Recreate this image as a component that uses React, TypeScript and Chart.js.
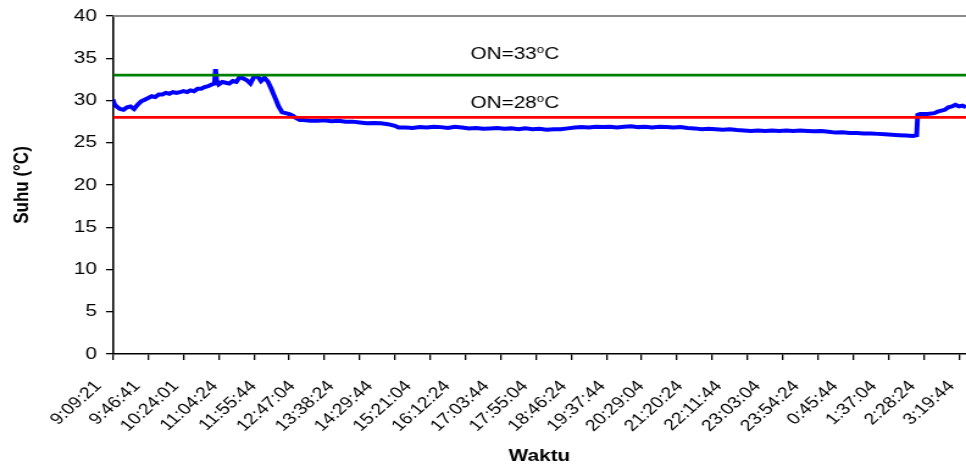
import React, { useEffect, useRef } from "react";
import { Chart, registerables } from "chart.js";

Chart.register(...registerables);

// ---- data ----
const timeLabels = [
  "9:09:21", "9:46:41", "10:24:01", "11:04:24", "11:55:44", "12:47:04", "13:38:24", "14:29:44",
  "15:21:04", "16:12:24", "17:03:44", "17:55:04", "18:46:24", "19:37:44", "20:29:04", "21:20:24",
  "22:11:44", "23:03:04", "23:54:24", "0:45:44", "1:37:04", "2:28:24", "3:19:44",
];
const labelValues = [0, 11, 22, 33, 44, 55, 66, 77, 88, 99, 110, 121, 132, 143, 154, 165, 176, 187, 198, 209, 220, 231, 242];
const tickMarkValues = [0, 10, 20, 30, 40, 50, 60, 70, 80, 90, 100, 110, 120, 130, 140, 150, 160, 170, 180, 190, 200, 210, 220, 230, 240];
const xMin = 0;
const xMax = 242;

const sampleX = [
  0, 0.5, 1, 2, 3, 4, 5, 6, 7, 8, 9, 10, 11, 12, 13, 14, 15, 16, 17, 18, 19, 20, 21, 22, 23, 24, 25, 26, 27, 28,
  28.8, 29.1, 29.4, 30, 31, 32, 33, 34, 35, 36, 37, 38, 39, 40, 41, 42, 43, 44, 45, 46, 47, 48, 49, 50, 51, 52, 53, 54,
  56, 58, 60, 62, 64, 66, 68, 70, 72, 74, 76, 78, 80,
  81, 83, 85, 87, 89, 91, 93, 95, 97, 99, 101, 103, 105, 107, 109, 111, 113, 115, 117, 119, 121, 123, 125, 127, 129,
  131, 133, 135, 137, 139, 141, 143, 145, 147, 149, 151, 153, 155, 157, 159, 161, 163, 165, 167, 169, 171, 173, 175,
  177, 179, 181, 183, 185, 187, 189, 191, 193, 195, 197, 199, 201, 203, 205, 207, 209, 211, 213, 215, 217, 219, 221,
  223, 225, 227,
  228, 228.3, 229, 231, 233, 234, 235, 236, 237, 238, 239, 240, 241, 242,
];
const temperature = [
  30.1, 29.5, 29.3, 29.0, 28.9, 29.2, 29.3, 29.0, 29.5, 29.9, 30.1, 30.3, 30.5, 30.4, 30.7, 30.7, 30.9, 30.8, 31.0, 30.9,
  31.0, 31.1, 31.0, 31.2, 31.1, 31.4, 31.4, 31.6, 31.7, 31.9,
  32.0, 33.7, 32.4, 31.9, 32.2, 32.1, 32.0, 32.3, 32.2, 32.8, 32.6, 32.4, 32.0, 32.8, 32.9, 32.3, 32.7, 32.2, 31.3, 30.3,
  29.3, 28.6, 28.5, 28.4, 28.2, 27.9, 27.7, 27.7,
  27.6, 27.6, 27.65, 27.55, 27.6, 27.5, 27.5, 27.4, 27.3, 27.35, 27.3, 27.2, 27.0,
  26.8, 26.8, 26.75, 26.85, 26.8, 26.9, 26.85, 26.75, 26.9, 26.8, 26.7, 26.75, 26.65, 26.7, 26.75, 26.65, 26.7, 26.6,
  26.7, 26.6, 26.65, 26.55, 26.6, 26.6, 26.7,
  26.8, 26.85, 26.8, 26.9, 26.85, 26.9, 26.8, 26.9, 26.95, 26.85, 26.9, 26.8, 26.9, 26.85, 26.8, 26.85, 26.75, 26.7,
  26.6, 26.65, 26.6, 26.55, 26.6,
  26.5, 26.45, 26.4, 26.45, 26.4, 26.45, 26.4, 26.45, 26.4, 26.45, 26.4, 26.35, 26.4, 26.3, 26.2, 26.25, 26.15, 26.15,
  26.1, 26.1, 26.05, 26.0, 25.95,
  25.9, 25.85, 25.8,
  25.9, 28.3, 28.4, 28.4, 28.5, 28.7, 28.8, 28.9, 29.2, 29.3, 29.5, 29.3, 29.4, 29.2,
];

const thresholdHigh = 33;
const thresholdLow = 28;
const annotationMain = ["ON=33", "ON=28"];
const annotationUnit = "C";
const annotationX = 114;
const annotationY = [35.7, 29.9];

const yMin = 0;
const yMax = 40;
const yStep = 5;

// ---- styling ----
const FONT = "'Liberation Sans', Arial, Helvetica, sans-serif";
const CSS_W = 966;
const INT_W = 792; // drawn narrower, stretched horizontally like the source picture
const H = 468;

const overlayPlugin = {
  id: "overlay",
  afterDatasetsDraw(chart: any) {
    const { ctx, chartArea, scales } = chart;
    ctx.save();
    // plot-area top border
    ctx.strokeStyle = "#8c8c8c";
    ctx.lineWidth = 2;
    ctx.beginPath();
    ctx.moveTo(chartArea.left, chartArea.top);
    ctx.lineTo(chartArea.right, chartArea.top);
    ctx.stroke();

    // threshold captions with superscript "o"
    ctx.fillStyle = "#000";
    ctx.textBaseline = "alphabetic";
    ctx.textAlign = "left";
    annotationMain.forEach((txt, i) => {
      const cx = scales.x.getPixelForValue(annotationX);
      const cy = scales.y.getPixelForValue(annotationY[i]);
      const base = cy + 6.5;
      ctx.font = `17px ${FONT}`;
      const w1 = ctx.measureText(txt).width;
      const w3 = ctx.measureText(annotationUnit).width;
      ctx.font = `11px ${FONT}`;
      const w2 = ctx.measureText("o").width;
      const start = cx - (w1 + w2 + w3) / 2;
      ctx.font = `17px ${FONT}`;
      ctx.fillText(txt, start, base);
      ctx.font = `11px ${FONT}`;
      ctx.fillText("o", start + w1, base - 6);
      ctx.font = `17px ${FONT}`;
      ctx.fillText(annotationUnit, start + w1 + w2, base);
    });
    ctx.restore();
  },
};

export default function App() {
  const ref = useRef<HTMLCanvasElement>(null);

  useEffect(() => {
    document.body.style.margin = "0";
    const canvas = ref.current!;
    const chart = new Chart(canvas, {
      type: "line",
      data: {
        datasets: [
          {
            label: "ON 33",
            data: [
              { x: xMin, y: thresholdHigh },
              { x: xMax, y: thresholdHigh },
            ],
            borderColor: "#008000",
            borderWidth: 2.6,
            pointRadius: 0,
            xAxisID: "x",
            yAxisID: "y",
          },
          {
            label: "ON 28",
            data: [
              { x: xMin, y: thresholdLow },
              { x: xMax, y: thresholdLow },
            ],
            borderColor: "#FF0000",
            borderWidth: 2.6,
            pointRadius: 0,
            xAxisID: "x",
            yAxisID: "y",
          },
          {
            label: "Suhu",
            data: sampleX.map((x, i) => ({ x, y: temperature[i] })),
            borderColor: "#0000FF",
            borderWidth: 4,
            pointRadius: 0,
            tension: 0,
            xAxisID: "x",
            yAxisID: "y",
          },
        ],
      },
      options: {
        responsive: false,
        animation: false,
        devicePixelRatio: 1,
        layout: { padding: { top: 16, left: 0, right: 0, bottom: 0 } },
        plugins: { legend: { display: false }, tooltip: { enabled: false } },
        scales: {
          x: {
            type: "linear",
            position: "bottom",
            bounds: "data",
            min: xMin,
            max: xMax,
            weight: 0,
            afterBuildTicks: (s: any) => {
              s.ticks = tickMarkValues.map((v) => ({ value: v }));
            },
            ticks: { display: false },
            grid: { drawOnChartArea: false, drawTicks: true, tickLength: 6, color: "#000", lineWidth: 1.3 },
            border: { display: true, color: "#000", width: 1.6 },
            afterFit: (s: any) => {
              s.paddingLeft = 0;
              s.paddingRight = 0;
            },
          },
          xl: {
            type: "linear",
            position: "bottom",
            bounds: "data",
            min: xMin,
            max: xMax,
            weight: 1,
            afterBuildTicks: (s: any) => {
              s.ticks = labelValues.map((v) => ({ value: v }));
            },
            ticks: {
              autoSkip: false,
              minRotation: 47,
              maxRotation: 47,
              padding: 17,
              labelOffset: -12,
              color: "#000",
              font: { family: FONT, size: 16 },
              callback: (_v: any, i: number) => timeLabels[i],
            },
            grid: { display: false, drawTicks: false, drawOnChartArea: false },
            border: { display: false },
            title: {
              display: true,
              text: "Waktu",
              color: "#000",
              font: { family: FONT, size: 17, weight: "bold" },
              padding: { top: 0, bottom: 1 },
            },
            afterFit: (s: any) => {
              s.height = 108;
              s.paddingLeft = 0;
              s.paddingRight = 0;
            },
          },
          y: {
            type: "linear",
            position: "left",
            min: yMin,
            max: yMax,
            ticks: { stepSize: yStep, color: "#000", padding: 7.4, font: { family: FONT, size: 17 } },
            grid: { drawOnChartArea: false, drawTicks: true, tickLength: 5.7, color: "#000", lineWidth: 1.3 },
            border: { display: true, color: "#000", width: 1.6 },
            title: {
              display: true,
              text: "Suhu (°C)",
              color: "#000",
              font: { family: FONT, size: 17, weight: "bold" },
              padding: { top: 7.8, bottom: 0 },
            },
            afterFit: (s: any) => {
              s.width = 92.6;
              s.paddingTop = 0;
              s.paddingBottom = 0;
            },
          },
        },
      },
      plugins: [overlayPlugin],
    } as any);
    return () => chart.destroy();
  }, []);

  return (
    <div style={{ width: CSS_W, height: H }}>
      <canvas
        ref={ref}
        width={INT_W}
        height={H}
        style={{ width: `${CSS_W}px`, height: `${H}px`, display: "block" }}
      />
    </div>
  );
}
